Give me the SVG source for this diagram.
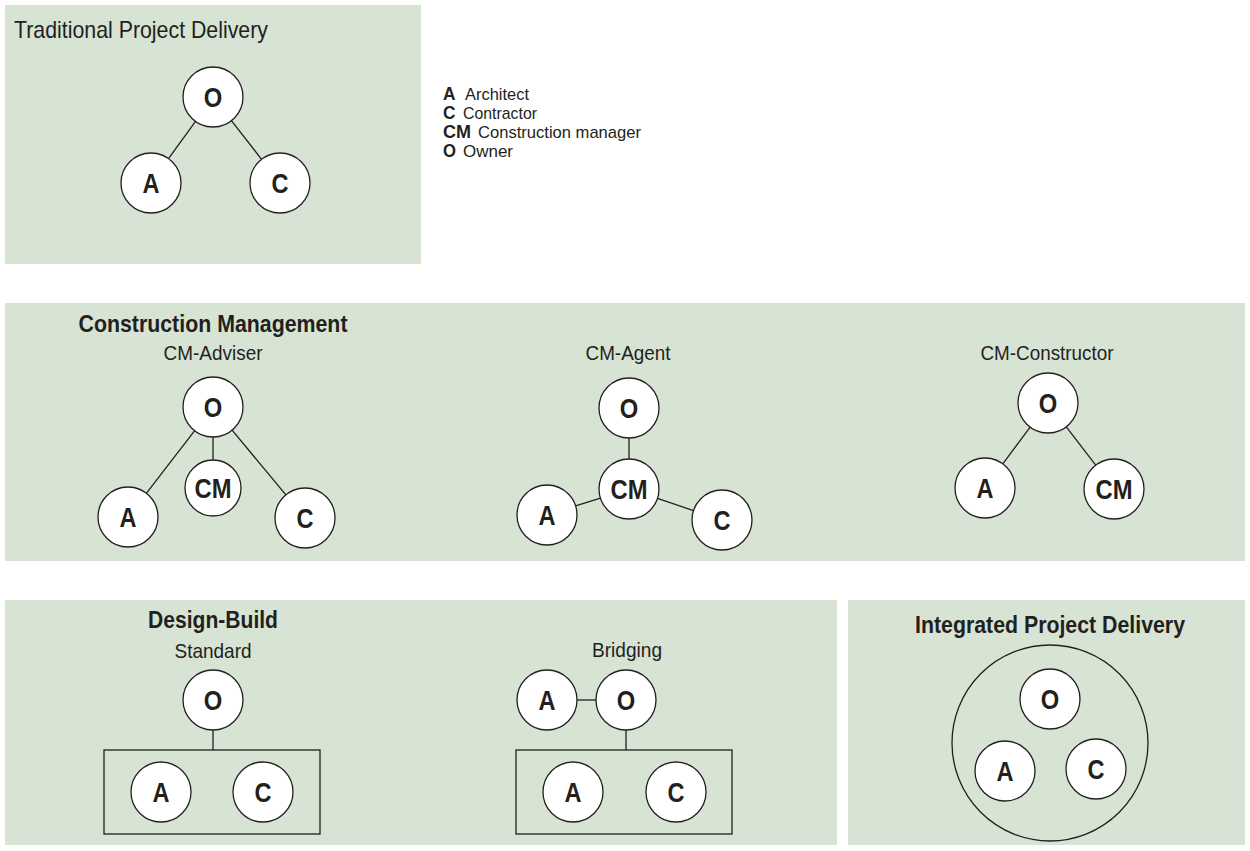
<svg xmlns="http://www.w3.org/2000/svg" width="1250" height="851" viewBox="0 0 1250 851">
  <style>
    .panel { fill: #d7e4d4; stroke: none; }
    .node circle { fill: #ffffff; stroke: #231f20; stroke-width: 1.3; }
    .node text { font-family: "Liberation Sans", Arial, sans-serif; font-weight: bold; font-size: 27px; fill: #231f20; text-anchor: middle; }
    .edge { stroke: #231f20; stroke-width: 1.3; fill: none; }
    .frame { fill: none; stroke: #231f20; stroke-width: 1.3; }
    .title { font-family: "Liberation Sans", Arial, sans-serif; font-weight: bold; font-size: 24px; fill: #231f20; text-anchor: middle; }
    .sub { font-family: "Liberation Sans", Arial, sans-serif; font-size: 21px; fill: #231f20; text-anchor: middle; }
    .key { font-family: "Liberation Sans", Arial, sans-serif; font-weight: bold; font-size: 18px; fill: #231f20; }
    .keytext { font-family: "Liberation Sans", Arial, sans-serif; font-size: 17px; fill: #231f20; }
  </style>

  <!-- background panels -->
  <g id="panels">
    <rect class="panel" x="5" y="5" width="416" height="259"/>
    <rect class="panel" x="5" y="303" width="1240" height="258"/>
    <rect class="panel" x="5" y="600" width="832" height="245"/>
    <rect class="panel" x="848" y="600" width="397" height="245"/>
  </g>

  <!-- headings -->
  <g id="headings">
    <text x="14" y="38" font-family="Liberation Sans, Arial, sans-serif" font-size="24" fill="#231f20" textLength="254" lengthAdjust="spacingAndGlyphs">Traditional Project Delivery</text>
    <text class="title" x="213" y="332" textLength="269" lengthAdjust="spacingAndGlyphs">Construction Management</text>
    <text class="sub" x="213" y="360" textLength="99" lengthAdjust="spacingAndGlyphs">CM-Adviser</text>
    <text class="sub" x="628" y="360" textLength="85" lengthAdjust="spacingAndGlyphs">CM-Agent</text>
    <text class="sub" x="1047" y="360" textLength="133" lengthAdjust="spacingAndGlyphs">CM-Constructor</text>
    <text class="title" x="213" y="628" textLength="130" lengthAdjust="spacingAndGlyphs">Design-Build</text>
    <text class="sub" x="213" y="658" textLength="77" lengthAdjust="spacingAndGlyphs">Standard</text>
    <text class="sub" x="627" y="657" textLength="70" lengthAdjust="spacingAndGlyphs">Bridging</text>
    <text class="title" x="1050" y="633" textLength="270" lengthAdjust="spacingAndGlyphs">Integrated Project Delivery</text>
  </g>

  <!-- key -->
  <g id="legend">
    <text class="key" x="443" y="100" textLength="12.5" lengthAdjust="spacingAndGlyphs">A</text>
    <text class="keytext" x="465" y="100" textLength="64" lengthAdjust="spacingAndGlyphs">Architect</text>
    <text class="key" x="443" y="119" textLength="12.5" lengthAdjust="spacingAndGlyphs">C</text>
    <text class="keytext" x="463" y="119" textLength="74" lengthAdjust="spacingAndGlyphs">Contractor</text>
    <text class="key" x="443" y="138" textLength="28" lengthAdjust="spacingAndGlyphs">CM</text>
    <text class="keytext" x="478" y="138" textLength="163" lengthAdjust="spacingAndGlyphs">Construction manager</text>
    <text class="key" x="443" y="157" textLength="13" lengthAdjust="spacingAndGlyphs">O</text>
    <text class="keytext" x="463" y="157" textLength="50" lengthAdjust="spacingAndGlyphs">Owner</text>
  </g>

  <!-- connectors and enclosures -->
  <g id="connectors">
    <!-- traditional -->
    <line class="edge" x1="195.5" y1="121.3" x2="168.5" y2="158.7"/>
    <line class="edge" x1="231.4" y1="120.7" x2="261.6" y2="159.3"/>
    <!-- CM-Adviser -->
    <line class="edge" x1="194.7" y1="430.7" x2="146.3" y2="493.3"/>
    <line class="edge" x1="213" y1="437" x2="213" y2="460"/>
    <line class="edge" x1="232.1" y1="430.1" x2="285.9" y2="494.9"/>
    <!-- CM-Agent -->
    <line class="edge" x1="629" y1="438" x2="629" y2="459"/>
    <line class="edge" x1="600.4" y1="498.2" x2="575.6" y2="505.8"/>
    <line class="edge" x1="657.5" y1="498.4" x2="693.5" y2="510.6"/>
    <!-- CM-Constructor -->
    <line class="edge" x1="1030.1" y1="427.1" x2="1002.8" y2="463.9"/>
    <line class="edge" x1="1066.3" y1="426.8" x2="1095.7" y2="465.2"/>
    <!-- design-build standard -->
    <line class="edge" x1="213" y1="730" x2="213" y2="750"/>
    <rect class="frame" x="104" y="750" width="216" height="84"/>
    <!-- design-build bridging -->
    <line class="edge" x1="577" y1="700" x2="596" y2="700"/>
    <line class="edge" x1="626" y1="730" x2="626" y2="750"/>
    <rect class="frame" x="516" y="750" width="216" height="84"/>
    <!-- integrated delivery -->
    <circle class="frame" cx="1050" cy="743" r="98"/>
  </g>

  <!-- traditional -->
  <g id="trad-o" class="node"><circle cx="213" cy="97" r="30"/><text x="213" y="107" textLength="18.5" lengthAdjust="spacingAndGlyphs">O</text></g>
  <g id="trad-a" class="node"><circle cx="151" cy="183" r="30"/><text x="151" y="193" textLength="17" lengthAdjust="spacingAndGlyphs">A</text></g>
  <g id="trad-c" class="node"><circle cx="280" cy="183" r="30"/><text x="280" y="193" textLength="17" lengthAdjust="spacingAndGlyphs">C</text></g>

  <!-- CM-Adviser -->
  <g id="adv-o" class="node"><circle cx="213" cy="407" r="30"/><text x="213" y="417" textLength="18.5" lengthAdjust="spacingAndGlyphs">O</text></g>
  <g id="adv-cm" class="node"><circle cx="213" cy="488" r="28"/><text x="213" y="498" textLength="37" lengthAdjust="spacingAndGlyphs">CM</text></g>
  <g id="adv-a" class="node"><circle cx="128" cy="517" r="30"/><text x="128" y="527" textLength="17" lengthAdjust="spacingAndGlyphs">A</text></g>
  <g id="adv-c" class="node"><circle cx="305" cy="518" r="30"/><text x="305" y="528" textLength="17" lengthAdjust="spacingAndGlyphs">C</text></g>

  <!-- CM-Agent -->
  <g id="agt-o" class="node"><circle cx="629" cy="408" r="30"/><text x="629" y="418" textLength="18.5" lengthAdjust="spacingAndGlyphs">O</text></g>
  <g id="agt-cm" class="node"><circle cx="629" cy="489" r="30"/><text x="629" y="499" textLength="37" lengthAdjust="spacingAndGlyphs">CM</text></g>
  <g id="agt-a" class="node"><circle cx="547" cy="515" r="30"/><text x="547" y="525" textLength="17" lengthAdjust="spacingAndGlyphs">A</text></g>
  <g id="agt-c" class="node"><circle cx="722" cy="520" r="30"/><text x="722" y="530" textLength="17" lengthAdjust="spacingAndGlyphs">C</text></g>

  <!-- CM-Constructor -->
  <g id="con-o" class="node"><circle cx="1048" cy="403" r="30"/><text x="1048" y="413" textLength="18.5" lengthAdjust="spacingAndGlyphs">O</text></g>
  <g id="con-a" class="node"><circle cx="985" cy="488" r="30"/><text x="985" y="498" textLength="17" lengthAdjust="spacingAndGlyphs">A</text></g>
  <g id="con-cm" class="node"><circle cx="1114" cy="489" r="30"/><text x="1114" y="499" textLength="37" lengthAdjust="spacingAndGlyphs">CM</text></g>

  <!-- design-build standard -->
  <g id="std-o" class="node"><circle cx="213" cy="700" r="30"/><text x="213" y="710" textLength="18.5" lengthAdjust="spacingAndGlyphs">O</text></g>
  <g id="std-a" class="node"><circle cx="161" cy="792" r="30"/><text x="161" y="802" textLength="17" lengthAdjust="spacingAndGlyphs">A</text></g>
  <g id="std-c" class="node"><circle cx="263" cy="792" r="30"/><text x="263" y="802" textLength="17" lengthAdjust="spacingAndGlyphs">C</text></g>

  <!-- design-build bridging -->
  <g id="brg-a1" class="node"><circle cx="547" cy="700" r="30"/><text x="547" y="710" textLength="17" lengthAdjust="spacingAndGlyphs">A</text></g>
  <g id="brg-o" class="node"><circle cx="626" cy="700" r="30"/><text x="626" y="710" textLength="18.5" lengthAdjust="spacingAndGlyphs">O</text></g>
  <g id="brg-a2" class="node"><circle cx="573" cy="792" r="30"/><text x="573" y="802" textLength="17" lengthAdjust="spacingAndGlyphs">A</text></g>
  <g id="brg-c" class="node"><circle cx="676" cy="792" r="30"/><text x="676" y="802" textLength="17" lengthAdjust="spacingAndGlyphs">C</text></g>

  <!-- integrated delivery -->
  <g id="ipd-o" class="node"><circle cx="1050" cy="699" r="30"/><text x="1050" y="709" textLength="18.5" lengthAdjust="spacingAndGlyphs">O</text></g>
  <g id="ipd-a" class="node"><circle cx="1005" cy="771" r="30"/><text x="1005" y="781" textLength="17" lengthAdjust="spacingAndGlyphs">A</text></g>
  <g id="ipd-c" class="node"><circle cx="1096" cy="769" r="30"/><text x="1096" y="779" textLength="17" lengthAdjust="spacingAndGlyphs">C</text></g>
</svg>
